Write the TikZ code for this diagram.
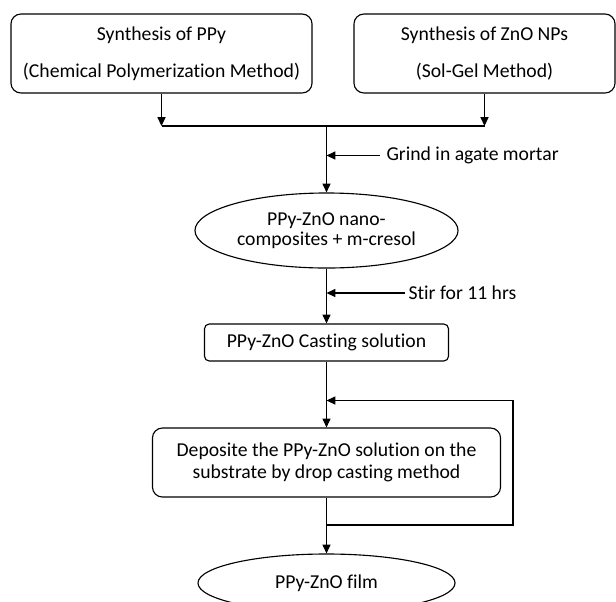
\documentclass[tikz,border=0pt]{standalone}
\usepackage{fontspec}
\setmainfont{Carlito}[Ligatures=CommonOff]
\usetikzlibrary{shapes.geometric, arrows.meta, positioning}

\begin{document}
\begin{tikzpicture}[x=0.025cm, y=-0.025cm, line width=0.8pt,
    font=\fontsize{14}{14.5}\selectfont,
    flow/.style={-{Triangle[length=0.22cm, width=0.2cm]}},
    stage/.style={draw, rounded corners=0.25cm, align=center, inner sep=0pt},
    result/.style={draw, ellipse, align=center, inner sep=0pt},
    note/.style={anchor=west, inner sep=0pt}]
    \clip (0,0) rectangle (616,601);

    % Synthesis routes
    \node[stage, minimum width=7.525cm, minimum height=1.975cm] (ppy) at (161.5,53.5)
        {Synthesis of PPy\\[12pt](Chemical Polymerization Method)};
    \node[stage, minimum width=6.525cm, minimum height=1.975cm] (zno) at (484.5,53.5)
        {Synthesis of ZnO NPs\\[12pt](Sol-Gel Method)};

    % Mixing and casting
    \node[result, minimum width=6.575cm, minimum height=1.875cm] (mix) at (326.5,230.5)
        {PPy-ZnO nano-\\composites + m-cresol};
    \node[stage, rounded corners=0.12cm, minimum width=6.1cm, minimum height=0.925cm] (cast) at (326.5,342.5)
        {PPy-ZnO Casting solution};
    \node[stage, minimum width=8.7cm, minimum height=1.725cm] (depo) at (326.5,462.5)
        {Deposite the PPy-ZnO solution on the\\[1pt]substrate by drop casting method};
    \node[result, minimum width=6.425cm, minimum height=1.45cm] (film) at (326.5,583)
        {PPy-ZnO film};

    % Process steps
    \node[note] (grind) at (386,155.5) {Grind in agate mortar};
    \node[note] (stir) at (408,293) {Stir for 11 hrs};

    % Connectors
    \coordinate (join) at (326.5,126);
    \draw[flow] (ppy.south) -- (ppy.south |- join);
    \draw[flow] (zno.south) -- (zno.south |- join);
    \draw (ppy.south |- join) -- (zno.south |- join);
    \draw[flow] (join) -- (mix.north);
    \draw[flow] ([xshift=-0.15cm]grind.west) -- (grind.west -| join);
    \draw[flow] (mix.south) -- (cast.north);
    \draw[flow] ([xshift=-0.075cm]stir.west) -- (stir.west -| mix.south);
    \draw[flow] (cast.south) -- (depo.north);
    \draw[flow] (depo.south) -- (film.north);

    % Repeat loop
    \coordinate (loopt) at (513,400.5);
    \coordinate (loopb) at (513,525);
    \draw[flow] (depo.south |- loopb) -- (loopb) -- (loopt) -- (loopt -| cast.south);
\end{tikzpicture}
\end{document}
